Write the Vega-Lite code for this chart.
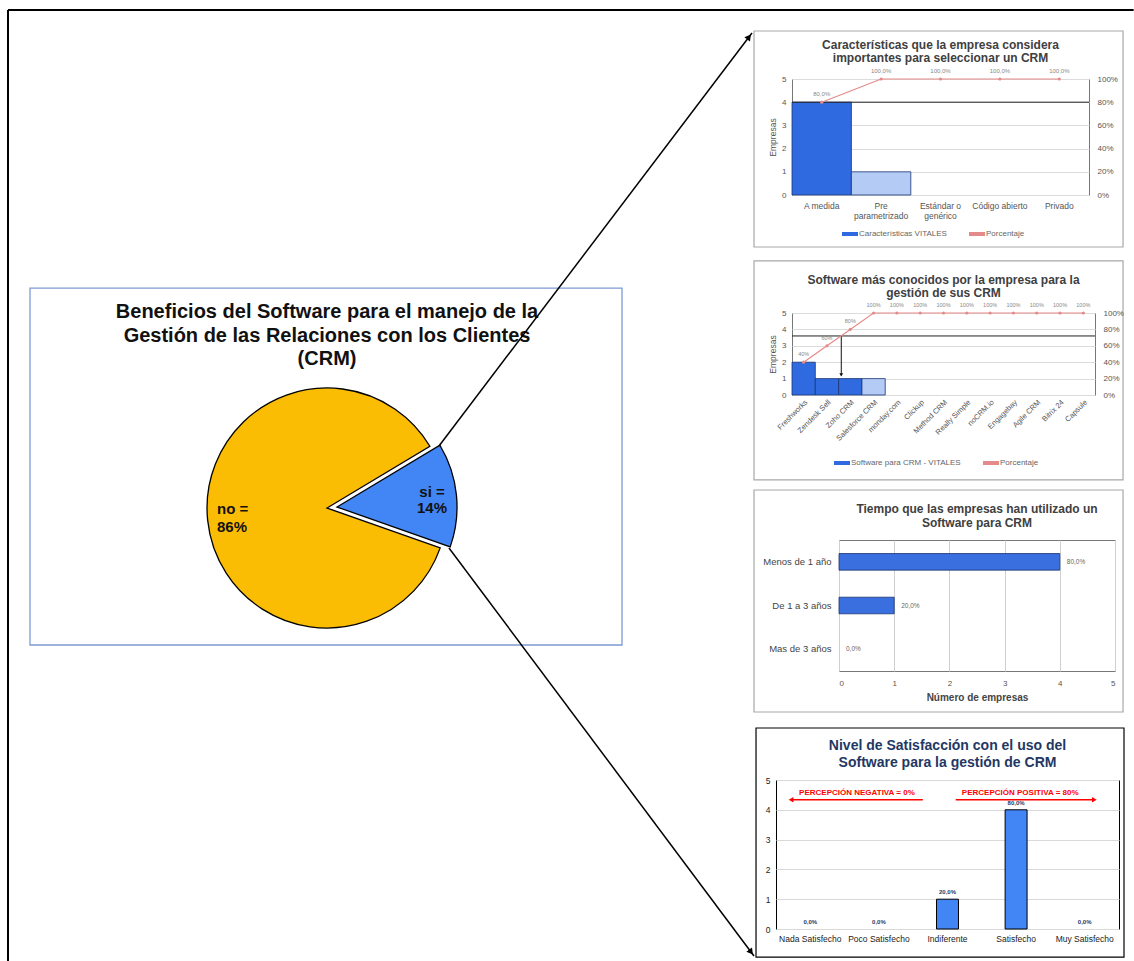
{
"$schema": "https://vega.github.io/schema/vega-lite/v6.json",
"background": "white",
"padding": {"left": 7, "top": 9, "right": 0, "bottom": 0},
"config": {"font": "Liberation Sans", "view": {"stroke": "#777"}, "legend": {"layout": {"bottom": {"anchor": "middle"}}}},
"datasets": {
"pie": [{"respuesta": "si", "porcentaje": 14}, {"respuesta": "no", "porcentaje": 86}],
"caracteristicas": [
{"caracteristica": "A medida", "empresas": 4, "porcentaje": 80, "serie": "Características VITALES", "etiqueta": "80,0%"},
{"caracteristica": "Pre parametrizado", "empresas": 1, "porcentaje": 100, "serie": "Otras", "etiqueta": "100,0%"},
{"caracteristica": "Estándar o genérico", "empresas": 0, "porcentaje": 100, "serie": "Otras", "etiqueta": "100,0%"},
{"caracteristica": "Código abierto", "empresas": 0, "porcentaje": 100, "serie": "Otras", "etiqueta": "100,0%"},
{"caracteristica": "Privado", "empresas": 0, "porcentaje": 100, "serie": "Otras", "etiqueta": "100,0%"}],
"software": [
{"software": "Freshworks", "empresas": 2, "porcentaje": 40, "serie": "Software para CRM - VITALES", "etiqueta": "40%"},
{"software": "Zendesk Sell", "empresas": 1, "porcentaje": 60, "serie": "Software para CRM - VITALES", "etiqueta": "60%"},
{"software": "Zoho CRM", "empresas": 1, "porcentaje": 80, "serie": "Software para CRM - VITALES", "etiqueta": "80%"},
{"software": "Salesforce CRM", "empresas": 1, "porcentaje": 100, "serie": "Otros", "etiqueta": "100%"},
{"software": "monday.com", "empresas": 0, "porcentaje": 100, "serie": "Otros", "etiqueta": "100%"},
{"software": "Clickup", "empresas": 0, "porcentaje": 100, "serie": "Otros", "etiqueta": "100%"},
{"software": "Method CRM", "empresas": 0, "porcentaje": 100, "serie": "Otros", "etiqueta": "100%"},
{"software": "Really Simple", "empresas": 0, "porcentaje": 100, "serie": "Otros", "etiqueta": "100%"},
{"software": "noCRM.io", "empresas": 0, "porcentaje": 100, "serie": "Otros", "etiqueta": "100%"},
{"software": "Engagebay", "empresas": 0, "porcentaje": 100, "serie": "Otros", "etiqueta": "100%"},
{"software": "Agile CRM", "empresas": 0, "porcentaje": 100, "serie": "Otros", "etiqueta": "100%"},
{"software": "Bitrix 24", "empresas": 0, "porcentaje": 100, "serie": "Otros", "etiqueta": "100%"},
{"software": "Capsule", "empresas": 0, "porcentaje": 100, "serie": "Otros", "etiqueta": "100%"}],
"tiempo": [
{"tiempo": "Menos de 1 año", "empresas": 4, "etiqueta": "80,0%"},
{"tiempo": "De 1 a 3 años", "empresas": 1, "etiqueta": "20,0%"},
{"tiempo": "Mas de 3 años", "empresas": 0, "etiqueta": "0,0%"}],
"satisfaccion": [
{"nivel": "Nada Satisfecho", "empresas": 0, "etiqueta": "0,0%"},
{"nivel": "Poco Satisfecho", "empresas": 0, "etiqueta": "0,0%"},
{"nivel": "Indiferente", "empresas": 1, "etiqueta": "20,0%"},
{"nivel": "Satisfecho", "empresas": 4, "etiqueta": "80,0%"},
{"nivel": "Muy Satisfecho", "empresas": 0, "etiqueta": "0,0%"}]
},
"resolve": {"scale": {"color": "independent", "theta": "independent"}, "legend": {"color": "independent"}},
"hconcat": [
{
"width": 744, "height": 882,
"view": {"stroke": null},
"data": {"values": [{}]},
"layer": [
{"mark": {"type": "rule", "color": "#000", "strokeWidth": 2},
 "encoding": {"x": {"datum": 0, "type": "quantitative", "scale": {"domain": [0, 100], "nice": false, "zero": false}, "axis": null}, "x2": {"datum": 151.3},
  "y": {"datum": -7.823, "type": "quantitative", "scale": {"domain": [0, 100], "nice": false, "zero": false, "reverse": true}, "axis": null}}},
{"mark": {"type": "rule", "color": "#000", "strokeWidth": 2},
 "encoding": {"x": {"datum": 0, "type": "quantitative", "scale": {"domain": [0, 100], "nice": false, "zero": false}, "axis": null},
  "y": {"datum": -7.823, "type": "quantitative", "scale": {"domain": [0, 100], "nice": false, "zero": false, "reverse": true}, "axis": null}, "y2": {"datum": 100}}},
{"mark": {"type": "rect", "filled": false, "color": "#7d9bd4", "strokeWidth": 1.3},
 "encoding": {"x": {"datum": 2.957, "type": "quantitative", "scale": {"domain": [0, 100], "nice": false, "zero": false}, "axis": null}, "x2": {"datum": 82.53},
  "y": {"datum": 23.70, "type": "quantitative", "scale": {"domain": [0, 100], "nice": false, "zero": false, "reverse": true}, "axis": null}, "y2": {"datum": 64.17}}},
{"mark": {"type": "rect", "filled": false, "color": "#a8a8a8", "strokeWidth": 1.2},
 "encoding": {"x": {"datum": 100.27, "type": "quantitative", "scale": {"domain": [0, 100], "nice": false, "zero": false}, "axis": null}, "x2": {"datum": 149.87},
  "y": {"datum": -5.442, "type": "quantitative", "scale": {"domain": [0, 100], "nice": false, "zero": false, "reverse": true}, "axis": null}, "y2": {"datum": 19.05}}},
{"mark": {"type": "rect", "filled": false, "color": "#a8a8a8", "strokeWidth": 1.2},
 "encoding": {"x": {"datum": 100.27, "type": "quantitative", "scale": {"domain": [0, 100], "nice": false, "zero": false}, "axis": null}, "x2": {"datum": 149.87},
  "y": {"datum": 20.63, "type": "quantitative", "scale": {"domain": [0, 100], "nice": false, "zero": false, "reverse": true}, "axis": null}, "y2": {"datum": 45.46}}},
{"mark": {"type": "rect", "filled": false, "color": "#a8a8a8", "strokeWidth": 1.2},
 "encoding": {"x": {"datum": 100.27, "type": "quantitative", "scale": {"domain": [0, 100], "nice": false, "zero": false}, "axis": null}, "x2": {"datum": 149.87},
  "y": {"datum": 46.60, "type": "quantitative", "scale": {"domain": [0, 100], "nice": false, "zero": false, "reverse": true}, "axis": null}, "y2": {"datum": 71.77}}},
{"mark": {"type": "rect", "filled": false, "color": "#000", "strokeWidth": 1.2},
 "encoding": {"x": {"datum": 100.54, "type": "quantitative", "scale": {"domain": [0, 100], "nice": false, "zero": false}, "axis": null}, "x2": {"datum": 150.0},
  "y": {"datum": 73.58, "type": "quantitative", "scale": {"domain": [0, 100], "nice": false, "zero": false, "reverse": true}, "axis": null}, "y2": {"datum": 99.55}}},
{"mark": {"type": "text", "fontSize": 20, "fontWeight": "bold", "color": "#111", "align": "center", "baseline": "middle", "lineHeight": 23.5},
 "encoding": {"x": {"datum": 42.88, "type": "quantitative", "scale": {"domain": [0, 100], "nice": false, "zero": false}, "axis": null},
  "y": {"datum": 26.42, "type": "quantitative", "scale": {"domain": [0, 100], "nice": false, "zero": false, "reverse": true}, "axis": null},
  "text": {"value": ["Beneficios del Software para el manejo de la", "Gestión de las Relaciones con los Clientes", "(CRM)"]}}},
{"data": {"name": "pie"},
 "transform": [{"stack": "porcentaje", "groupby": [], "sort": [{"field": "respuesta", "order": "descending"}], "as": ["t0", "t1"]}, {"filter": "datum.respuesta == 'no'"}],
 "mark": {"type": "arc", "outerRadius": 120, "stroke": "#000", "strokeWidth": 1.3},
 "encoding": {"x": {"datum": 42.88, "type": "quantitative", "scale": {"domain": [0, 100], "nice": false, "zero": false}, "axis": null},
  "y": {"datum": 48.64, "type": "quantitative", "scale": {"domain": [0, 100], "nice": false, "zero": false, "reverse": true}, "axis": null},
  "theta": {"field": "t0", "type": "quantitative", "scale": {"domain": [0, 100], "range": [1.03, 7.3132]}, "stack": null},
  "theta2": {"field": "t1"},
  "color": {"field": "respuesta", "type": "nominal", "scale": {"domain": ["no", "si"], "range": ["#FBBC04", "#4285F4"]}, "legend": null}}},
{"data": {"name": "pie"},
 "transform": [{"stack": "porcentaje", "groupby": [], "sort": [{"field": "respuesta", "order": "descending"}], "as": ["t0", "t1"]}, {"filter": "datum.respuesta == 'si'"}],
 "mark": {"type": "arc", "outerRadius": 120, "stroke": "#000", "strokeWidth": 1.3, "xOffset": 10, "yOffset": -1},
 "encoding": {"x": {"datum": 42.88, "type": "quantitative", "scale": {"domain": [0, 100], "nice": false, "zero": false}, "axis": null},
  "y": {"datum": 48.64, "type": "quantitative", "scale": {"domain": [0, 100], "nice": false, "zero": false, "reverse": true}, "axis": null},
  "theta": {"field": "t0", "type": "quantitative", "scale": {"domain": [0, 100], "range": [1.03, 7.3132]}, "stack": null},
  "theta2": {"field": "t1"},
  "color": {"field": "respuesta", "type": "nominal", "scale": {"domain": ["no", "si"], "range": ["#FBBC04", "#4285F4"]}, "legend": null}}},
{"mark": {"type": "text", "fontSize": 15, "fontWeight": "bold", "color": "#111", "align": "left", "baseline": "middle", "lineHeight": 18},
 "encoding": {"x": {"datum": 28.09, "type": "quantitative", "scale": {"domain": [0, 100], "nice": false, "zero": false}, "axis": null},
  "y": {"datum": 48.75, "type": "quantitative", "scale": {"domain": [0, 100], "nice": false, "zero": false, "reverse": true}, "axis": null},
  "text": {"value": ["no =", "86%"]}}},
{"mark": {"type": "text", "fontSize": 15, "fontWeight": "bold", "color": "#111", "align": "center", "baseline": "middle", "lineHeight": 16},
 "encoding": {"x": {"datum": 56.99, "type": "quantitative", "scale": {"domain": [0, 100], "nice": false, "zero": false}, "axis": null},
  "y": {"datum": 46.83, "type": "quantitative", "scale": {"domain": [0, 100], "nice": false, "zero": false, "reverse": true}, "axis": null},
  "text": {"value": ["si =", "14%"]}}},
{"mark": {"type": "rule", "color": "#000", "strokeWidth": 1.5},
 "encoding": {"x": {"datum": 57.93, "type": "quantitative", "scale": {"domain": [0, 100], "nice": false, "zero": false}, "axis": null}, "x2": {"datum": 100.0},
  "y": {"datum": 41.61, "type": "quantitative", "scale": {"domain": [0, 100], "nice": false, "zero": false, "reverse": true}, "axis": null}, "y2": {"datum": -5.215}}},
{"mark": {"type": "rule", "color": "#000", "strokeWidth": 1.5},
 "encoding": {"x": {"datum": 59.27, "type": "quantitative", "scale": {"domain": [0, 100], "nice": false, "zero": false}, "axis": null}, "x2": {"datum": 100.27},
  "y": {"datum": 53.17, "type": "quantitative", "scale": {"domain": [0, 100], "nice": false, "zero": false, "reverse": true}, "axis": null}, "y2": {"datum": 99.43}}},
{"mark": {"type": "point", "shape": "triangle-up", "filled": true, "color": "#000", "opacity": 1, "size": 50, "angle": 37},
 "encoding": {"x": {"datum": 99.6, "type": "quantitative", "scale": {"domain": [0, 100], "nice": false, "zero": false}, "axis": null},
  "y": {"datum": -4.762, "type": "quantitative", "scale": {"domain": [0, 100], "nice": false, "zero": false, "reverse": true}, "axis": null}}},
{"mark": {"type": "point", "shape": "triangle-up", "filled": true, "color": "#000", "opacity": 1, "size": 50, "angle": 143},
 "encoding": {"x": {"datum": 99.87, "type": "quantitative", "scale": {"domain": [0, 100], "nice": false, "zero": false}, "axis": null},
  "y": {"datum": 98.98, "type": "quantitative", "scale": {"domain": [0, 100], "nice": false, "zero": false, "reverse": true}, "axis": null}}}
]
},
{
"resolve": {"scale": {"color": "independent"}, "legend": {"color": "independent"}},
"vconcat": [
{"hconcat": [
 {"width": 16, "height": 1, "view": {"stroke": null}, "data": {"values": [{}]}, "mark": {"type": "text"}, "encoding": {"text": {"value": ""}}},
 {"width": 297, "height": 116,
  "view": {"stroke": "#777"},
  "title": {"text": ["Características que la empresa considera", "importantes para seleccionar un CRM"], "fontSize": 12, "fontWeight": "bold", "color": "#404040", "lineHeight": 13.5, "offset": 3},
  "data": {"name": "caracteristicas"},
  "layer": [
   {"layer": [
    {"mark": {"type": "bar", "stroke": "#1c3570", "strokeWidth": 0.8},
     "encoding": {
      "x": {"field": "caracteristica", "type": "nominal", "sort": null, "scale": {"paddingInner": 0, "paddingOuter": 0},
       "axis": {"title": null, "labelAngle": 0, "labelFontSize": 8.5, "labelColor": "#555", "ticks": false, "domain": false, "labelPadding": 6,
        "labelExpr": "datum.label == 'Pre parametrizado' ? ['Pre', 'parametrizado'] : datum.label == 'Estándar o genérico' ? ['Estándar o', 'genérico'] : datum.label"}},
      "y": {"field": "empresas", "type": "quantitative", "scale": {"domain": [0, 5], "nice": false},
       "axis": {"title": "Empresas", "values": [0, 1, 2, 3, 4, 5], "labelFontSize": 8, "labelColor": "#555", "ticks": false, "domain": false, "gridColor": "#dcdcdc", "titleFontSize": 8.5, "titleFontWeight": "normal", "titleColor": "#555", "titlePadding": 4, "labelPadding": 6}},
      "color": {"field": "serie", "type": "nominal", "scale": {"domain": ["Características VITALES", "Porcentaje", "Otras"], "range": ["#2f6ae0", "#e58a8a", "#b3cbf5"]},
       "legend": {"values": ["Características VITALES", "Porcentaje"], "orient": "bottom", "direction": "horizontal", "title": null, "labelFontSize": 8, "labelColor": "#666", "symbolType": "M-1.6,-0.4L1.6,-0.4L1.6,0.4L-1.6,0.4Z", "symbolSize": 100, "symbolStrokeWidth": 0, "columnPadding": 22, "offset": 8}},
      "strokeOpacity": {"condition": {"test": "datum.empresas > 0", "value": 1}, "value": 0}
     }},
    {"data": {"values": [{}]}, "mark": {"type": "rule", "color": "#222", "strokeWidth": 1},
     "encoding": {"y": {"datum": 4, "type": "quantitative", "scale": {"domain": [0, 5], "nice": false},
       "axis": {"title": "Empresas", "values": [0, 1, 2, 3, 4, 5], "labelFontSize": 8, "labelColor": "#555", "ticks": false, "domain": false, "gridColor": "#dcdcdc", "titleFontSize": 8.5, "titleFontWeight": "normal", "titleColor": "#555", "titlePadding": 4, "labelPadding": 6}}}}
   ]},
   {"encoding": {
     "x": {"field": "caracteristica", "type": "nominal", "sort": null},
     "y": {"field": "porcentaje", "type": "quantitative", "scale": {"domain": [0, 100], "nice": false},
       "axis": {"orient": "right", "title": null, "values": [0, 20, 40, 60, 80, 100], "labelExpr": "datum.value + '%'", "labelFontSize": 8, "labelColor": "#555", "ticks": false, "domain": false, "grid": false, "labelPadding": 8}}},
    "layer": [
    {"mark": {"type": "line", "color": "#e58a8a", "strokeWidth": 1.2, "point": {"filled": true, "size": 10, "color": "#e58a8a"}}},
    {"mark": {"type": "text", "fontSize": 6, "dy": -8, "color": "#888"}, "encoding": {"text": {"field": "etiqueta"}}}
   ]}
  ],
  "resolve": {"scale": {"y": "independent"}}
 }
], "spacing": 0},
{"hconcat": [
 {"width": 16, "height": 1, "view": {"stroke": null}, "data": {"values": [{}]}, "mark": {"type": "text"}, "encoding": {"text": {"value": ""}}},
 {"width": 303, "height": 82,
  "view": {"stroke": "#777"},
  "title": {"text": ["Software más conocidos por la empresa para la", "gestión de sus CRM"], "fontSize": 12, "fontWeight": "bold", "color": "#404040", "lineHeight": 13.5, "offset": 3},
  "data": {"name": "software"},
  "layer": [
   {"layer": [
    {"mark": {"type": "bar", "stroke": "#1c3570", "strokeWidth": 0.8},
     "encoding": {
      "x": {"field": "software", "type": "nominal", "sort": null, "scale": {"paddingInner": 0, "paddingOuter": 0},
       "axis": {"title": null, "labelAngle": -45, "labelFontSize": 7.5, "labelColor": "#555", "ticks": false, "domain": false, "labelPadding": 3}},
      "y": {"field": "empresas", "type": "quantitative", "scale": {"domain": [0, 5], "nice": false},
       "axis": {"title": "Empresas", "values": [0, 1, 2, 3, 4, 5], "labelFontSize": 8, "labelColor": "#555", "ticks": false, "domain": false, "gridColor": "#dcdcdc", "titleFontSize": 8.5, "titleFontWeight": "normal", "titleColor": "#555", "titlePadding": 4, "labelPadding": 6}},
      "color": {"field": "serie", "type": "nominal", "scale": {"domain": ["Software para CRM - VITALES", "Porcentaje", "Otros"], "range": ["#2f6ae0", "#e58a8a", "#b3cbf5"]},
       "legend": {"values": ["Software para CRM - VITALES", "Porcentaje"], "orient": "bottom", "direction": "horizontal", "title": null, "labelFontSize": 8, "labelColor": "#666", "symbolType": "M-1.6,-0.4L1.6,-0.4L1.6,0.4L-1.6,0.4Z", "symbolSize": 100, "symbolStrokeWidth": 0, "columnPadding": 22, "offset": 15}},
      "strokeOpacity": {"condition": {"test": "datum.empresas > 0", "value": 1}, "value": 0}
     }},
    {"data": {"values": [{}]}, "mark": {"type": "rule", "color": "#222", "strokeWidth": 1},
     "encoding": {"y": {"datum": 3.6, "type": "quantitative", "scale": {"domain": [0, 5], "nice": false},
       "axis": {"title": "Empresas", "values": [0, 1, 2, 3, 4, 5], "labelFontSize": 8, "labelColor": "#555", "ticks": false, "domain": false, "gridColor": "#dcdcdc", "titleFontSize": 8.5, "titleFontWeight": "normal", "titleColor": "#555", "titlePadding": 4, "labelPadding": 6}}}},
    {"data": {"values": [{"software": "Zoho CRM"}]}, "mark": {"type": "rule", "color": "#111", "strokeWidth": 1, "xOffset": -9},
     "encoding": {"x": {"field": "software", "type": "nominal", "sort": null, "scale": {"paddingInner": 0, "paddingOuter": 0},
       "axis": {"title": null, "labelAngle": -45, "labelFontSize": 7.5, "labelColor": "#555", "ticks": false, "domain": false, "labelPadding": 3}},
      "y": {"datum": 3.6, "type": "quantitative", "scale": {"domain": [0, 5], "nice": false},
       "axis": {"title": "Empresas", "values": [0, 1, 2, 3, 4, 5], "labelFontSize": 8, "labelColor": "#555", "ticks": false, "domain": false, "gridColor": "#dcdcdc", "titleFontSize": 8.5, "titleFontWeight": "normal", "titleColor": "#555", "titlePadding": 4, "labelPadding": 6}},
      "y2": {"datum": 1.2}}},
    {"data": {"values": [{"software": "Zoho CRM"}]}, "mark": {"type": "point", "shape": "triangle-down", "filled": true, "color": "#111", "opacity": 1, "size": 14, "xOffset": -9},
     "encoding": {"x": {"field": "software", "type": "nominal", "sort": null, "scale": {"paddingInner": 0, "paddingOuter": 0},
       "axis": {"title": null, "labelAngle": -45, "labelFontSize": 7.5, "labelColor": "#555", "ticks": false, "domain": false, "labelPadding": 3}},
      "y": {"datum": 1.22, "type": "quantitative", "scale": {"domain": [0, 5], "nice": false},
       "axis": {"title": "Empresas", "values": [0, 1, 2, 3, 4, 5], "labelFontSize": 8, "labelColor": "#555", "ticks": false, "domain": false, "gridColor": "#dcdcdc", "titleFontSize": 8.5, "titleFontWeight": "normal", "titleColor": "#555", "titlePadding": 4, "labelPadding": 6}}}}
   ]},
   {"encoding": {
     "x": {"field": "software", "type": "nominal", "sort": null},
     "y": {"field": "porcentaje", "type": "quantitative", "scale": {"domain": [0, 100], "nice": false},
       "axis": {"orient": "right", "title": null, "values": [0, 20, 40, 60, 80, 100], "labelExpr": "datum.value + '%'", "labelFontSize": 8, "labelColor": "#555", "ticks": false, "domain": false, "grid": false, "labelPadding": 8}}},
    "layer": [
    {"mark": {"type": "line", "color": "#e58a8a", "strokeWidth": 1.2, "point": {"filled": true, "size": 10, "color": "#e58a8a"}}},
    {"mark": {"type": "text", "fontSize": 5.5, "dy": -8, "color": "#888"}, "encoding": {"text": {"field": "etiqueta"}}}
   ]}
  ],
  "resolve": {"scale": {"y": "independent"}}
 }
], "spacing": 0},
{"hconcat": [
 {"width": 10, "height": 1, "view": {"stroke": null}, "data": {"values": [{}]}, "mark": {"type": "text"}, "encoding": {"text": {"value": ""}}},
 {"width": 276, "height": 131,
  "view": {"stroke": "#777"},
  "title": {"text": ["Tiempo que las empresas han utilizado un", "Software para CRM"], "fontSize": 12, "fontWeight": "bold", "color": "#404040", "lineHeight": 14, "offset": 10},
  "data": {"name": "tiempo"},
  "encoding": {
   "y": {"field": "tiempo", "type": "nominal", "sort": null, "scale": {"paddingInner": 0.62, "paddingOuter": 0.31},
    "axis": {"title": null, "labelFontSize": 9.5, "labelColor": "#444", "ticks": false, "domain": false, "labelPadding": 8}},
   "x": {"field": "empresas", "type": "quantitative", "scale": {"domain": [0, 5], "nice": false},
    "axis": {"title": "Número de empresas", "values": [0, 1, 2, 3, 4, 5], "labelFontSize": 8, "labelColor": "#555", "ticks": false, "domain": false, "gridColor": "#d0d0d0", "titleFontSize": 10, "titleFontWeight": "bold", "titleColor": "#444", "labelPadding": 8, "titlePadding": 5}}
  },
  "layer": [
   {"mark": {"type": "bar", "color": "#3a6fe0", "stroke": "#1a3370", "strokeWidth": 0.8},
    "encoding": {"strokeOpacity": {"condition": {"test": "datum.empresas > 0", "value": 1}, "value": 0}}},
   {"mark": {"type": "text", "align": "left", "dx": 7, "fontSize": 6.5, "color": "#666"}, "encoding": {"text": {"field": "etiqueta"}}}
  ]
 }
], "spacing": 0},
{"hconcat": [
 {"width": 12, "height": 1, "view": {"stroke": null}, "data": {"values": [{}]}, "mark": {"type": "text"}, "encoding": {"text": {"value": ""}}},
 {"width": 343, "height": 149,
  "view": {"stroke": "#000"},
  "title": {"text": ["Nivel de Satisfacción con el uso del", "Software para la gestión de CRM"], "fontSize": 14, "fontWeight": "bold", "color": "#1F3864", "lineHeight": 17, "offset": 6},
  "data": {"name": "satisfaccion"},
  "layer": [
   {"encoding": {
     "x": {"field": "nivel", "type": "nominal", "sort": null, "scale": {"paddingInner": 0.68, "paddingOuter": 0.34},
       "axis": {"title": null, "labelAngle": 0, "labelFontSize": 8.5, "labelColor": "#222", "ticks": false, "domain": false, "labelPadding": 5}},
     "y": {"field": "empresas", "type": "quantitative", "scale": {"domain": [0, 5], "nice": false},
       "axis": {"title": null, "values": [0, 1, 2, 3, 4, 5], "labelFontSize": 8.5, "labelColor": "#222", "ticks": false, "domain": false, "gridColor": "#d9d9d9", "labelPadding": 6}}},
    "layer": [
    {"mark": {"type": "bar", "color": "#4285F4", "stroke": "#000", "strokeWidth": 1},
     "encoding": {"strokeOpacity": {"condition": {"test": "datum.empresas > 0", "value": 1}, "value": 0}}},
    {"mark": {"type": "text", "fontSize": 6, "fontWeight": "bold", "color": "#1F3864", "dy": -7}, "encoding": {"text": {"field": "etiqueta"}}}
   ]},
   {"data": {"values": [{}]},
    "layer": [
     {"mark": {"type": "text", "fontSize": 8, "fontWeight": "bold", "color": "#FF0000"},
      "encoding": {"x": {"datum": 1.18, "type": "quantitative", "scale": {"domain": [0, 5], "nice": false, "zero": false}, "axis": null},
       "y": {"datum": 4.57, "type": "quantitative", "scale": {"domain": [0, 5], "nice": false}, "axis": {"title": null, "values": [0, 1, 2, 3, 4, 5], "labelFontSize": 8.5, "labelColor": "#222", "ticks": false, "domain": false, "gridColor": "#d9d9d9", "labelPadding": 6}},
       "text": {"value": "PERCEPCIÓN  NEGATIVA = 0%"}}},
     {"mark": {"type": "text", "fontSize": 8, "fontWeight": "bold", "color": "#FF0000"},
      "encoding": {"x": {"datum": 3.56, "type": "quantitative", "scale": {"domain": [0, 5], "nice": false, "zero": false}, "axis": null},
       "y": {"datum": 4.57, "type": "quantitative", "scale": {"domain": [0, 5], "nice": false}, "axis": {"title": null, "values": [0, 1, 2, 3, 4, 5], "labelFontSize": 8.5, "labelColor": "#222", "ticks": false, "domain": false, "gridColor": "#d9d9d9", "labelPadding": 6}},
       "text": {"value": "PERCEPCIÓN  POSITIVA = 80%"}}},
     {"mark": {"type": "rule", "color": "#FF0000", "strokeWidth": 1.5},
      "encoding": {"x": {"datum": 0.22, "type": "quantitative", "scale": {"domain": [0, 5], "nice": false, "zero": false}, "axis": null}, "x2": {"datum": 2.14},
       "y": {"datum": 4.34, "type": "quantitative", "scale": {"domain": [0, 5], "nice": false}, "axis": {"title": null, "values": [0, 1, 2, 3, 4, 5], "labelFontSize": 8.5, "labelColor": "#222", "ticks": false, "domain": false, "gridColor": "#d9d9d9", "labelPadding": 6}}}},
     {"mark": {"type": "rule", "color": "#FF0000", "strokeWidth": 1.5},
      "encoding": {"x": {"datum": 2.62, "type": "quantitative", "scale": {"domain": [0, 5], "nice": false, "zero": false}, "axis": null}, "x2": {"datum": 4.64},
       "y": {"datum": 4.34, "type": "quantitative", "scale": {"domain": [0, 5], "nice": false}, "axis": {"title": null, "values": [0, 1, 2, 3, 4, 5], "labelFontSize": 8.5, "labelColor": "#222", "ticks": false, "domain": false, "gridColor": "#d9d9d9", "labelPadding": 6}}}},
     {"mark": {"type": "point", "shape": "triangle-left", "filled": true, "color": "#FF0000", "opacity": 1, "size": 30},
      "encoding": {"x": {"datum": 0.22, "type": "quantitative", "scale": {"domain": [0, 5], "nice": false, "zero": false}, "axis": null},
       "y": {"datum": 4.34, "type": "quantitative", "scale": {"domain": [0, 5], "nice": false}, "axis": {"title": null, "values": [0, 1, 2, 3, 4, 5], "labelFontSize": 8.5, "labelColor": "#222", "ticks": false, "domain": false, "gridColor": "#d9d9d9", "labelPadding": 6}}}},
     {"mark": {"type": "point", "shape": "triangle-right", "filled": true, "color": "#FF0000", "opacity": 1, "size": 30},
      "encoding": {"x": {"datum": 4.64, "type": "quantitative", "scale": {"domain": [0, 5], "nice": false, "zero": false}, "axis": null},
       "y": {"datum": 4.34, "type": "quantitative", "scale": {"domain": [0, 5], "nice": false}, "axis": {"title": null, "values": [0, 1, 2, 3, 4, 5], "labelFontSize": 8.5, "labelColor": "#222", "ticks": false, "domain": false, "gridColor": "#d9d9d9", "labelPadding": 6}}}}
    ]}
  ],
  "resolve": {"scale": {"x": "independent"}}
 }
], "spacing": 0}
],
"spacing": 35
}
],
"spacing": 0,
"bounds": "flush"
}
